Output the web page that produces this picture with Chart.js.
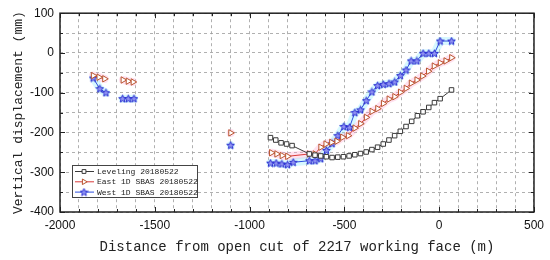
<!DOCTYPE html>
<html lang="en">
<head>
<meta charset="UTF-8">
<title>Vertical displacement vs distance</title>
<script src="https://cdn.jsdelivr.net/npm/chart.js"></script>
<style>
  body { margin: 0; background: #fff; }
  .wrap { position: relative; width: 550px; height: 260px; }
</style>
</head>
<body>
<div class="wrap"><canvas id="chart" width="550" height="260"></canvas></div>
<script>
// values, null = break in the line
const seriesNames = ['Leveling 20180522', 'East 1D SBAS 20180522', 'West 1D SBAS 20180522'];

const levelingX = [-890, -862, -834, -805, -776, -685, -655, -625, -595, -565, -535, -505, -475, -445, -415, -385, -355, -325, -295, -265, -235, -205, -175, -145, -115, -85, -55, -25, 5, 65];
const levelingY = [-213, -219, -226, -229, -233, -254, -257, -259, -261, -263, -262, -261, -259, -256, -253, -249, -243, -237, -229, -219, -208, -197, -185, -172, -158, -148, -137, -125, -115, -93];

const eastX = [-1825, -1795, -1765, -1720, -1668, -1641, -1615, -1400, -1100, -1000, -885, -857, -829, -800, -685, -655, -625, -598, -568, -540, -510, -480, -445, -415, -385, -355, -325, -295, -265, -235, -205, -175, -148, -118, -88, -57, -27, 5, 35, 65];
const eastY = [-57, -61, -65, null, -68, -71, -73, null, -201, null, -251, -254, -258, -260, -254, -254, -237, -229, -225, -222, -212, -208, -189, -178, -162, -147, -140, -127, -116, -110, -99, -89, -76, -68, -58, -46, -33, -25, -20, -12];

const westX = [-1825, -1790, -1758, -1720, -1670, -1640, -1610, -1400, -1100, -1000, -890, -860, -830, -800, -770, -685, -655, -625, -595, -565, -535, -503, -473, -445, -415, -385, -355, -325, -295, -265, -235, -205, -175, -148, -118, -85, -55, -25, 5, 65];
const westY = [-63, -90, -100, null, -115, -115, -115, null, -232, null, -277, -277, -279, -281, -275, -271, -271, -266, -245, -228, -208, -185, -187, -150, -143, -120, -98, -82, -79, -77, -73, -57, -43, -20, -20, -1, -1, -1, 30, 30];

const xTicksMajor = [-2000, -1500, -1000, -500, 0, 500];
const yTicksMajor = [-400, -300, -200, -100, 0, 100];

function pairs(xs, ys) {
    return xs.map((x, i) => ({ x: x, y: ys[i] }));
}

// 5-point star marker
function makeStar() {
    const c = document.createElement('canvas');
    c.width = 9; c.height = 9;
    const g = c.getContext('2d');
    g.beginPath();
    for (let i = 0; i < 10; i++) {
        const r = i % 2 === 0 ? 4 : 1.8;
        const a = -Math.PI / 2 + i * Math.PI / 5;
        const px = 4.5 + r * Math.cos(a), py = 4.8 + r * Math.sin(a);
        if (i === 0) g.moveTo(px, py); else g.lineTo(px, py);
    }
    g.closePath();
    g.fillStyle = '#9092f2';
    g.fill();
    g.strokeStyle = '#2b2fd0';
    g.lineWidth = 1;
    g.stroke();
    return c;
}
const starImg = makeStar();

// translucent band behind the SBAS lines
const halo = {
    id: 'halo',
    beforeDatasetsDraw(chart) {
        const ctx = chart.ctx;
        chart.data.datasets.forEach((ds, i) => {
            if (!ds.haloColor) return;
            const pts = chart.getDatasetMeta(i).data;
            ctx.save();
            ctx.strokeStyle = ds.haloColor;
            ctx.lineWidth = 8;
            ctx.lineCap = 'round';
            ctx.lineJoin = 'round';
            ctx.beginPath();
            let open = false;
            pts.forEach((p, k) => {
                if (ds.data[k].y === null) { open = false; return; }
                if (!open) { ctx.moveTo(p.x, p.y); ctx.lineTo(p.x + 0.1, p.y); open = true; }
                else ctx.lineTo(p.x, p.y);
            });
            ctx.stroke();
            ctx.restore();
        });
    }
};

// box border and inward ticks on four sides
const frame = {
    id: 'frame',
    afterDatasetsDraw(chart) {
        const { ctx, chartArea: a, scales: { x, y } } = chart;
        ctx.save();
        ctx.strokeStyle = '#222';
        ctx.lineWidth = 1;
        ctx.beginPath();
        x.ticks.forEach(t => {
            const px = Math.round(x.getPixelForValue(t.value)) + 0.5;
            const len = xTicksMajor.includes(t.value) ? 5 : 3;
            ctx.moveTo(px, a.bottom); ctx.lineTo(px, a.bottom - len);
            ctx.moveTo(px, a.top); ctx.lineTo(px, a.top + len);
        });
        y.ticks.forEach(t => {
            const py = Math.round(y.getPixelForValue(t.value)) + 0.5;
            const len = yTicksMajor.includes(t.value) ? 5 : 3;
            ctx.moveTo(a.left, py); ctx.lineTo(a.left + len, py);
            ctx.moveTo(a.right, py); ctx.lineTo(a.right - len, py);
        });
        ctx.stroke();
        ctx.lineWidth = 1.5;
        ctx.strokeRect(a.left, a.top, a.right - a.left, a.bottom - a.top);
        ctx.restore();
    }
};

// legend box inside the plot, lower left
const boxLegend = {
    id: 'boxLegend',
    afterDraw(chart) {
        const ctx = chart.ctx;
        const a = chart.chartArea;
        const left = a.left + 12, top = a.bottom - 47, w = 125, h = 32;
        ctx.save();
        ctx.fillStyle = '#fff';
        ctx.fillRect(left, top, w, h);
        ctx.strokeStyle = '#444';
        ctx.lineWidth = 1;
        ctx.strokeRect(left + 0.5, top + 0.5, w, h);
        chart.data.datasets.forEach((ds, i) => {
            const cy = top + 6.5 + i * 10.3;
            ctx.strokeStyle = ds.borderColor;
            ctx.lineWidth = 1;
            ctx.beginPath();
            ctx.moveTo(left + 3, cy); ctx.lineTo(left + 22, cy);
            ctx.stroke();
            ctx.strokeStyle = ds.pointBorderColor;
            ctx.fillStyle = '#fff';
            Chart.helpers.drawPoint(ctx, {
                pointStyle: ds.pointStyle, radius: ds.pointRadius - 0.5,
                rotation: ds.pointRotation || 0, borderWidth: 1
            }, left + 12, cy);
            ctx.fillStyle = '#222';
            ctx.font = '8px "Liberation Mono", monospace';
            ctx.textBaseline = 'middle';
            ctx.fillText(seriesNames[i], left + 25, cy + 0.5);
        });
        ctx.restore();
    }
};

const ctx = document.getElementById('chart').getContext('2d');
new Chart(ctx, {
    type: 'line',
    data: {
        datasets: [
            {
                label: seriesNames[0],
                data: pairs(levelingX, levelingY),
                borderColor: '#3a3a3a',
                borderWidth: 1,
                pointStyle: 'rect',
                pointRadius: 3.2,
                pointBorderColor: '#3a3a3a',
                pointBackgroundColor: '#fff',
                pointBorderWidth: 1,
                spanGaps: false
            },
            {
                label: seriesNames[1],
                data: pairs(eastX, eastY),
                borderColor: '#d93a3a',
                borderWidth: 1,
                pointStyle: 'triangle',
                pointRotation: 90,
                pointRadius: 3.7,
                pointBorderColor: '#b8542e',
                pointBackgroundColor: '#fff',
                pointBorderWidth: 1,
                haloColor: 'rgba(255, 170, 210, 0.35)',
                spanGaps: false
            },
            {
                label: seriesNames[2],
                data: pairs(westX, westY),
                borderColor: '#2d4fe0',
                borderWidth: 1,
                pointStyle: starImg,
                pointRadius: 4,
                pointBorderColor: '#2b2fd0',
                pointBackgroundColor: '#9092f2',
                haloColor: 'rgba(140, 235, 255, 0.35)',
                spanGaps: false
            }
        ]
    },
    options: {
        responsive: false,
        animation: false,
        devicePixelRatio: 1,
        layout: { padding: { left: 0, top: 10, right: 14, bottom: 0 } },
        plugins: { legend: { display: false }, tooltip: { enabled: false } },
        scales: {
            x: {
                type: 'linear',
                min: -2000,
                max: 500,
                afterFit: s => { s.height = 48; },
                grid: { color: '#9c9c9c', lineWidth: 0.8, drawTicks: false },
                border: { display: false, dash: [3, 3] },
                ticks: {
                    stepSize: 100,
                    autoSkip: false,
                    maxRotation: 0,
                    padding: 6,
                    color: '#111',
                    font: { family: '"Liberation Sans", Arial, sans-serif', size: 12 },
                    callback: v => xTicksMajor.includes(v) ? String(v) : ''
                },
                title: {
                    display: true,
                    text: 'Distance from open cut of 2217 working face (m)',
                    color: '#222',
                    font: { family: '"Liberation Mono", monospace', size: 14 },
                    padding: { top: 0, bottom: 4 }
                }
            },
            y: {
                min: -400,
                max: 100,
                afterFit: s => { s.width = 60; },
                grid: { color: '#9c9c9c', lineWidth: 0.8, drawTicks: false },
                border: { display: false, dash: [3, 3] },
                ticks: {
                    stepSize: 50,
                    autoSkip: false,
                    padding: 6,
                    color: '#111',
                    font: { family: '"Liberation Sans", Arial, sans-serif', size: 12 },
                    callback: v => yTicksMajor.includes(v) ? String(v) : ''
                },
                title: {
                    display: true,
                    text: 'Vertical displacement (mm)',
                    color: '#222',
                    font: { family: '"Liberation Mono", monospace', size: 13 },
                    padding: { top: 11, bottom: 0 }
                }
            }
        }
    },
    plugins: [halo, frame, boxLegend]
});
</script>
</body>
</html>
